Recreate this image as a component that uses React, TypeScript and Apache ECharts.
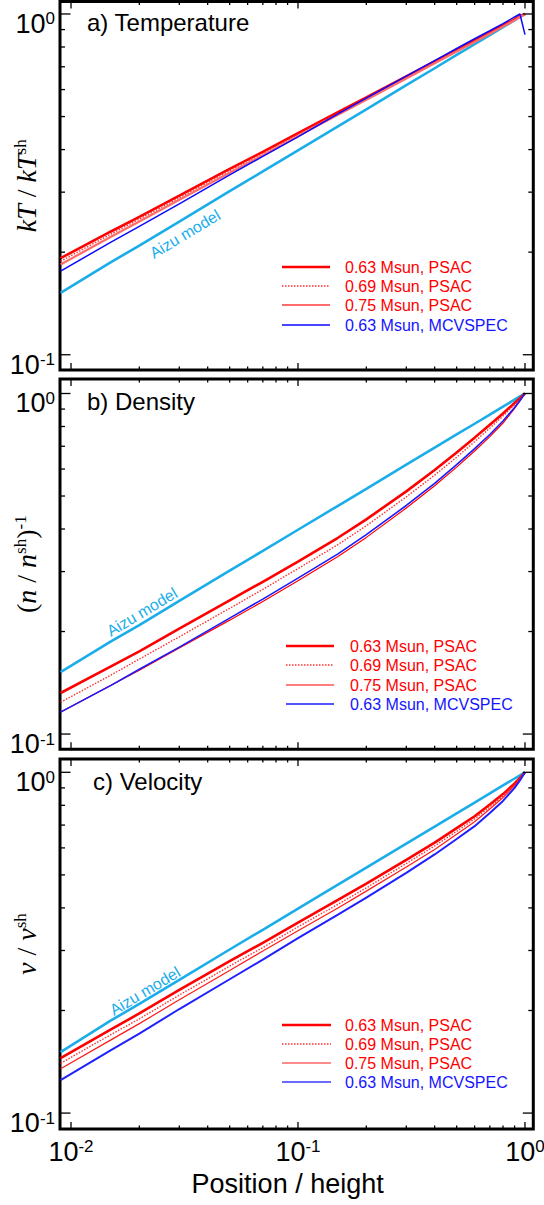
import { useEffect, useRef } from 'react';
import * as echarts from 'echarts';

// ---------- data ----------
const POSITION = [0.009, 0.015, 0.02, 0.03, 0.05, 0.07, 0.1, 0.15, 0.2, 0.3, 0.4, 0.5, 0.6, 0.7, 0.8, 0.9, 0.95, 1.0];

const SERIES_NAMES = ['Aizu model', '0.63 Msun, PSAC', '0.69 Msun, PSAC', '0.75 Msun, PSAC', '0.63 Msun, MCVSPEC'];
const LEGEND_LABELS = ['0.63 Msun, PSAC', '0.69 Msun, PSAC', '0.75 Msun, PSAC', '0.63 Msun, MCVSPEC'];
const PANEL_TITLES = ['a) Temperature', 'b) Density', 'c) Velocity'];

// a) Temperature  kT / kT_sh
const TEMP_AIZU = [0.152, 0.187, 0.209, 0.246, 0.302, 0.345, 0.398, 0.468, 0.525, 0.618, 0.693, 0.758, 0.815, 0.867, 0.915, 0.959, 0.98, 1.0];
const TEMP_063_PSAC = [0.192, 0.23, 0.254, 0.293, 0.351, 0.394, 0.447, 0.515, 0.569, 0.656, 0.726, 0.785, 0.836, 0.883, 0.925, 0.964, 0.985, 1.0];
const TEMP_069_PSAC = [0.188, 0.226, 0.25, 0.289, 0.347, 0.39, 0.443, 0.511, 0.565, 0.652, 0.722, 0.781, 0.832, 0.879, 0.921, 0.961, 0.983, 1.0];
const TEMP_075_PSAC = [0.184, 0.222, 0.246, 0.285, 0.342, 0.385, 0.438, 0.506, 0.56, 0.647, 0.717, 0.776, 0.828, 0.875, 0.918, 0.958, 0.98, 0.998];
const TEMP_063_MCV = [0.176, 0.214, 0.238, 0.277, 0.337, 0.382, 0.436, 0.509, 0.566, 0.657, 0.73, 0.792, 0.846, 0.893, 0.937, 0.98, 1.0, 0.87];

// b) Density  (n / n_sh)^-1
const DENS_AIZU = [0.152, 0.187, 0.209, 0.246, 0.302, 0.345, 0.398, 0.468, 0.525, 0.618, 0.693, 0.758, 0.815, 0.867, 0.915, 0.959, 0.98, 1.0];
const DENS_063_PSAC = [0.132, 0.158, 0.175, 0.204, 0.247, 0.28, 0.321, 0.377, 0.427, 0.516, 0.596, 0.671, 0.742, 0.81, 0.874, 0.938, 0.969, 1.0];
const DENS_069_PSAC = [0.124, 0.149, 0.166, 0.193, 0.234, 0.266, 0.306, 0.36, 0.409, 0.497, 0.576, 0.65, 0.722, 0.791, 0.859, 0.927, 0.963, 1.0];
const DENS_075_PSAC = [0.116, 0.139, 0.154, 0.179, 0.216, 0.245, 0.282, 0.332, 0.378, 0.461, 0.536, 0.608, 0.678, 0.747, 0.819, 0.904, 0.951, 1.0];
const DENS_063_MCV = [0.116, 0.139, 0.155, 0.18, 0.219, 0.249, 0.287, 0.338, 0.385, 0.469, 0.545, 0.618, 0.689, 0.758, 0.83, 0.91, 0.954, 1.0];

// c) Velocity  v / v_sh
const VEL_AIZU = [0.151, 0.187, 0.209, 0.246, 0.302, 0.345, 0.398, 0.468, 0.525, 0.618, 0.693, 0.758, 0.815, 0.867, 0.915, 0.959, 0.98, 1.0];
const VEL_063_PSAC = [0.145, 0.176, 0.196, 0.23, 0.279, 0.316, 0.362, 0.422, 0.471, 0.553, 0.622, 0.686, 0.743, 0.804, 0.863, 0.927, 0.962, 1.0];
const VEL_069_PSAC = [0.14, 0.17, 0.189, 0.222, 0.27, 0.306, 0.352, 0.41, 0.458, 0.54, 0.608, 0.671, 0.73, 0.791, 0.853, 0.92, 0.957, 1.0];
const VEL_075_PSAC = [0.135, 0.164, 0.183, 0.215, 0.262, 0.299, 0.343, 0.4, 0.448, 0.527, 0.594, 0.658, 0.716, 0.78, 0.843, 0.914, 0.955, 1.0];
const VEL_063_MCV = [0.125, 0.153, 0.171, 0.202, 0.247, 0.282, 0.326, 0.382, 0.429, 0.507, 0.574, 0.637, 0.695, 0.759, 0.824, 0.9, 0.946, 1.0];

const PANEL_DATA = [
  [TEMP_AIZU, TEMP_063_PSAC, TEMP_069_PSAC, TEMP_075_PSAC, TEMP_063_MCV],
  [DENS_AIZU, DENS_063_PSAC, DENS_069_PSAC, DENS_075_PSAC, DENS_063_MCV],
  [VEL_AIZU, VEL_063_PSAC, VEL_069_PSAC, VEL_075_PSAC, VEL_063_MCV],
];

const X_TICKS = [0.01, 0.02, 0.03, 0.04, 0.05, 0.06, 0.07, 0.08, 0.09, 0.1, 0.2, 0.3, 0.4, 0.5, 0.6, 0.7, 0.8, 0.9, 1];
const Y_TICKS = [0.1, 0.2, 0.3, 0.4, 0.5, 0.6, 0.7, 0.8, 0.9, 1];

// ---------- styles & layout ----------
const SANS = '"Liberation Sans", Arial, Helvetica, sans-serif';
const SERIF = '"Liberation Serif", "Times New Roman", serif';
const CYAN = '#1badea';
const RED = '#ff0000';
const BLUE = '#1414ff';
const DOT_RED = { color: '#ff3030', width: 1.4, dash: [1.5, 1.5] };

const PANEL_STYLES = [
  [
    { color: CYAN, width: 2.6 },
    { color: RED, width: 2.6 },
    DOT_RED,
    { color: '#ff6b6b', width: 2.2 },
    { color: '#0a0aff', width: 1.5 },
  ],
  [
    { color: CYAN, width: 2.6 },
    { color: RED, width: 2.6 },
    DOT_RED,
    { color: RED, width: 1.2 },
    { color: '#1a1aff', width: 1.6 },
  ],
  [
    { color: CYAN, width: 2.6 },
    { color: RED, width: 2.6 },
    DOT_RED,
    { color: '#ff1a1a', width: 1.2 },
    { color: '#2020ff', width: 2.0 },
  ],
];
const LEGEND_LINE_STYLES = [
  PANEL_STYLES[0].slice(1),
  PANEL_STYLES[1].slice(1),
  [PANEL_STYLES[2][1], PANEL_STYLES[2][2], PANEL_STYLES[2][3], { color: '#6a6aff', width: 2.2 }],
];
const LEGEND_TEXT_COLORS = [RED, RED, RED, BLUE];

const X_MIN = 0.008944;
const X_MAX = 1.088;
const GRID_LEFT = 60;
const GRID_WIDTH = 473.3;
const GRID_TOP = [1.5, 379, 759];
const GRID_HEIGHT = [368.5, 370.3, 370];
const Y_MIN = [0.0902, 0.0902, 0.0898];
const Y_MAX = [1.088, 1.103, 1.094];

const TITLE_POS = [[87, 22], [87, 401], [93, 781]];
const AIZU_POS = [[185, 234], [142, 612], [145, 991]];
const LEGEND_LINE_X = [[282, 330], [286, 334], [282, 331]];
const LEGEND_TEXT_X = [345, 350, 345];
const LEGEND_ROW_Y = [[267, 286, 305, 325], [646, 665, 685, 704], [1025, 1044, 1063, 1082]];

const Y_NAMES = [
  '{i|kT}{r| / }{i|kT}{s|sh}',
  '{r|(}{i|n}{r| / }{i|n}{s|sh}{r|)}{s|-1}',
  '{i|v}{r| / }{i|v}{s|sh}',
];

function isDecade(v: number) {
  const e = Math.log10(v);
  return Math.abs(e - Math.round(e)) < 1e-6;
}

function tickSeries(g: number, axis: 'x' | 'y') {
  const data = axis === 'x' ? X_TICKS.map((v) => [v, 0.5]) : Y_TICKS.map((v) => [0.1, v]);
  return {
    type: 'custom',
    xAxisIndex: g,
    yAxisIndex: g,
    silent: true,
    clip: false,
    z: 20,
    data,
    renderItem: (params: any, api: any) => {
      const cs = params.coordSys;
      const style = { stroke: '#000', lineWidth: 1.3, fill: null };
      if (axis === 'x') {
        const v = api.value(0);
        const len = isDecade(v) ? 7 : 3.5;
        const x = api.coord([v, 0.5])[0];
        const yb = cs.y + cs.height;
        return {
          type: 'group',
          children: [
            { type: 'line', shape: { x1: x, y1: yb, x2: x, y2: yb - len }, style },
            { type: 'line', shape: { x1: x, y1: cs.y, x2: x, y2: cs.y + len }, style },
          ],
        };
      }
      const v = api.value(1);
      const len = isDecade(v) ? 10.5 : 5;
      const y = api.coord([0.1, v])[1];
      const xr = cs.x + cs.width;
      return {
        type: 'group',
        children: [
          { type: 'line', shape: { x1: cs.x, y1: y, x2: cs.x + len, y2: y }, style },
          { type: 'line', shape: { x1: xr, y1: y, x2: xr - len, y2: y }, style },
        ],
      };
    },
  };
}

function decadeLabel(v: number) {
  const e = Math.log10(v);
  const r = Math.round(e);
  if (Math.abs(e - r) > 1e-6) return '';
  return `{b|10}{s|${r}}`;
}

const TICK_RICH = {
  b: { fontSize: 27, fontFamily: SANS, color: '#000' },
  s: { fontSize: 17, fontFamily: SANS, color: '#000', verticalAlign: 'top' },
};

export default function App() {
  const ref = useRef<HTMLDivElement>(null);

  useEffect(() => {
    if (!ref.current) return;
    const chart = echarts.init(ref.current, undefined, { renderer: 'svg' });

    const grids: any[] = [];
    const xAxes: any[] = [];
    const yAxes: any[] = [];
    const series: any[] = [];
    const graphics: any[] = [];

    for (let g = 0; g < 3; g++) {
      grids.push({
        left: GRID_LEFT,
        width: GRID_WIDTH,
        top: GRID_TOP[g],
        height: GRID_HEIGHT[g],
        containLabel: false,
        outerBoundsMode: 'none',
        show: true,
        borderColor: '#000',
        borderWidth: 3,
        backgroundColor: 'transparent',
      });
      const isBottom = g === 2;
      xAxes.push({
        type: 'log',
        logBase: 10,
        gridIndex: g,
        min: X_MIN,
        max: X_MAX,
        axisLine: { show: false },
        axisTick: { show: false },
        splitLine: { show: false },
        axisLabel: {
          show: isBottom,
          margin: 9,
          formatter: decadeLabel,
          rich: TICK_RICH,
        },
        name: isBottom ? 'Position / height' : '',
        nameLocation: 'middle',
        nameGap: 41,
        nameMoveOverlap: false,
        nameTextStyle: { fontSize: 27, fontFamily: SANS, color: '#000', padding: [0, 18, 0, 0] },
      });
      yAxes.push({
        type: 'log',
        logBase: 10,
        gridIndex: g,
        min: Y_MIN[g],
        max: Y_MAX[g],
        axisLine: { show: false },
        axisTick: { show: false },
        splitLine: { show: false },
        axisLabel: {
          margin: 5,
          formatter: decadeLabel,
          rich: TICK_RICH,
          padding: [20, 0, 0, 0],
        },
        name: Y_NAMES[g],
        nameLocation: 'middle',
        nameRotate: 90,
        nameGap: 20,
        nameMoveOverlap: false,
        nameTextStyle: {
          rich: {
            i: { fontSize: 28, fontFamily: SERIF, fontStyle: 'italic', color: '#000' },
            r: { fontSize: 28, fontFamily: SERIF, color: '#000' },
            s: { fontSize: 17, fontFamily: SERIF, color: '#000', verticalAlign: 'top' },
          },
        },
      });

      PANEL_DATA[g].forEach((vals, k) => {
        const st: any = PANEL_STYLES[g][k];
        series.push({
          type: 'line',
          name: SERIES_NAMES[k],
          xAxisIndex: g,
          yAxisIndex: g,
          data: POSITION.map((x, i) => [x, vals[i]]),
          showSymbol: false,
          symbol: 'none',
          clip: true,
          z: 2 + k,
          lineStyle: { color: st.color, width: st.width, type: st.dash ? st.dash : 'solid' },
        });
      });
      series.push(tickSeries(g, 'x'));
      series.push(tickSeries(g, 'y'));

      graphics.push({
        type: 'text',
        x: TITLE_POS[g][0],
        y: TITLE_POS[g][1],
        style: { text: PANEL_TITLES[g], fontSize: 24, fontFamily: SANS, fill: '#000', align: 'left', verticalAlign: 'middle' },
        z: 10,
      });
      graphics.push({
        type: 'text',
        x: AIZU_POS[g][0],
        y: AIZU_POS[g][1],
        rotation: Math.atan(0.6),
        style: { text: SERIES_NAMES[0], fontSize: 16, fontFamily: SANS, fill: CYAN, align: 'center', verticalAlign: 'middle' },
        z: 10,
      });
      LEGEND_LABELS.forEach((label, k) => {
        const st: any = LEGEND_LINE_STYLES[g][k];
        const y = LEGEND_ROW_Y[g][k];
        graphics.push({
          type: 'line',
          shape: { x1: LEGEND_LINE_X[g][0], y1: y, x2: LEGEND_LINE_X[g][1], y2: y },
          style: { stroke: st.color, lineWidth: st.width, lineDash: st.dash ? st.dash : null },
          z: 10,
        });
        graphics.push({
          type: 'text',
          x: LEGEND_TEXT_X[g],
          y,
          style: { text: label, fontSize: 16, fontFamily: SANS, fill: LEGEND_TEXT_COLORS[k], align: 'left', verticalAlign: 'middle' },
          z: 10,
        });
      });
    }

    chart.setOption({
      animation: false,
      backgroundColor: '#fff',
      grid: grids,
      xAxis: xAxes,
      yAxis: yAxes,
      series,
      graphic: graphics,
    });

    return () => chart.dispose();
  }, []);

  return <div ref={ref} style={{ position: 'fixed', left: 0, top: 0, width: 544, height: 1205 }} />;
}
